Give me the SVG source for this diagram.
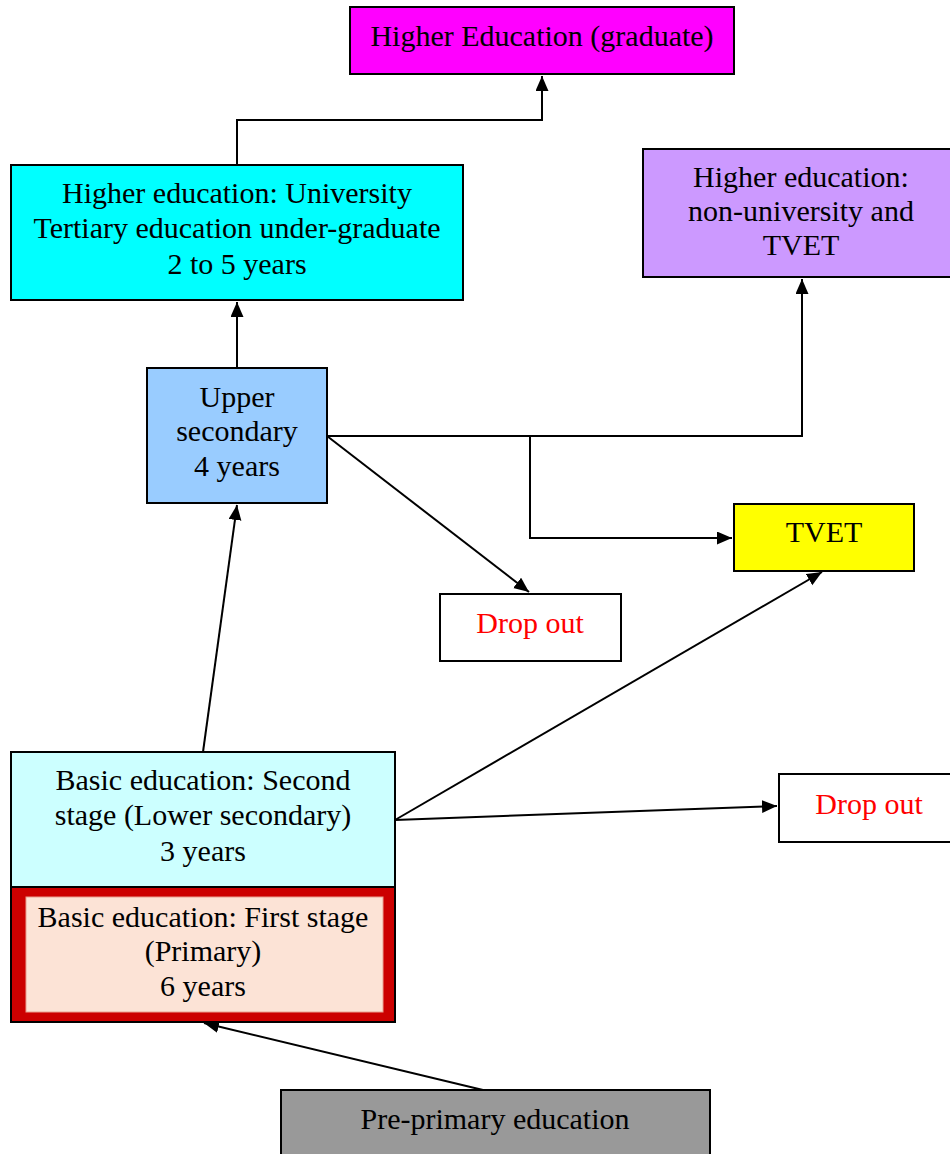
<svg xmlns="http://www.w3.org/2000/svg" width="950" height="1154" viewBox="0 0 950 1154">
<style>
  .box { stroke: #000; stroke-width: 2; }
  .t { font-family: "Liberation Serif", "Times New Roman", serif; font-size: 30px; fill: #000; text-anchor: middle; }
  .red { fill: #FF0000; }
  .c { fill: none; stroke: #000; stroke-width: 2; }
</style>
<defs>
  <marker id="ah" markerUnits="userSpaceOnUse" markerWidth="16" markerHeight="14" refX="15" refY="6.5" orient="auto">
    <path d="M0,0 L15,6.5 L0,13 z" fill="#000"/>
  </marker>
</defs>
<rect width="950" height="1154" fill="#fff"/>

<g id="connectors">
  <polyline class="c" points="237,165 237,120 542,120 542,76" marker-end="url(#ah)"/>
  <line class="c" x1="237" y1="368" x2="237" y2="302" marker-end="url(#ah)"/>
  <polyline class="c" points="327,436 802,436 802,279" marker-end="url(#ah)"/>
  <polyline class="c" points="530,436 530,538 732,538" marker-end="url(#ah)"/>
  <line class="c" x1="327" y1="436" x2="529" y2="592" marker-end="url(#ah)"/>
  <line class="c" x1="203" y1="752" x2="237" y2="505" marker-end="url(#ah)"/>
  <line class="c" x1="395" y1="820" x2="822" y2="572" marker-end="url(#ah)"/>
  <line class="c" x1="395" y1="820" x2="777" y2="806" marker-end="url(#ah)"/>
  <line class="c" x1="483" y1="1090" x2="204" y2="1023" marker-end="url(#ah)"/>
</g>

<g id="higher-graduate">
  <rect class="box" x="350" y="7" width="384" height="67" fill="#FF00FF"/>
  <text class="t" x="542" y="46">Higher Education (graduate)</text>
</g>

<g id="higher-university">
  <rect class="box" x="11" y="165" width="452" height="135" fill="#00FFFF"/>
  <text class="t" x="237" y="203">Higher education: University</text>
  <text class="t" x="237" y="238">Tertiary education under-graduate</text>
  <text class="t" x="237" y="274">2 to 5 years</text>
</g>

<g id="higher-nonuniversity">
  <rect class="box" x="643" y="149" width="315" height="128" fill="#CC99FF"/>
  <text class="t" x="801" y="187">Higher education:</text>
  <text class="t" x="801" y="221">non-university and</text>
  <text class="t" x="801" y="255">TVET</text>
</g>

<g id="upper-secondary">
  <rect class="box" x="147" y="368" width="180" height="135" fill="#99CCFF"/>
  <text class="t" x="237" y="407">Upper</text>
  <text class="t" x="237" y="441">secondary</text>
  <text class="t" x="237" y="476">4 years</text>
</g>

<g id="tvet">
  <rect class="box" x="734" y="504" width="180" height="67" fill="#FFFF00"/>
  <text class="t" x="824" y="542">TVET</text>
</g>

<g id="dropout-1">
  <rect class="box" x="440" y="594" width="181" height="67" fill="#FFFFFF"/>
  <text class="t red" x="530" y="633">Drop out</text>
</g>

<g id="basic-second">
  <rect class="box" x="11" y="752" width="384" height="135" fill="#CCFFFF"/>
  <text class="t" x="203" y="790">Basic education: Second</text>
  <text class="t" x="203" y="825">stage (Lower secondary)</text>
  <text class="t" x="203" y="861">3 years</text>
</g>

<g id="dropout-2">
  <rect class="box" x="779" y="774" width="180" height="68" fill="#FFFFFF"/>
  <text class="t red" x="869" y="814">Drop out</text>
</g>

<g id="basic-first">
  <rect class="box" x="11" y="887" width="384" height="135" fill="#CC0000"/>
  <rect x="26" y="897" width="357" height="115" fill="#FCE3D6" stroke="#E8A090" stroke-width="1"/>
  <text class="t" x="203" y="927">Basic education: First stage</text>
  <text class="t" x="203" y="961">(Primary)</text>
  <text class="t" x="203" y="996">6 years</text>
</g>

<g id="pre-primary">
  <rect class="box" x="281" y="1090" width="429" height="70" fill="#999999"/>
  <text class="t" x="495" y="1129">Pre-primary education</text>
</g>
</svg>
